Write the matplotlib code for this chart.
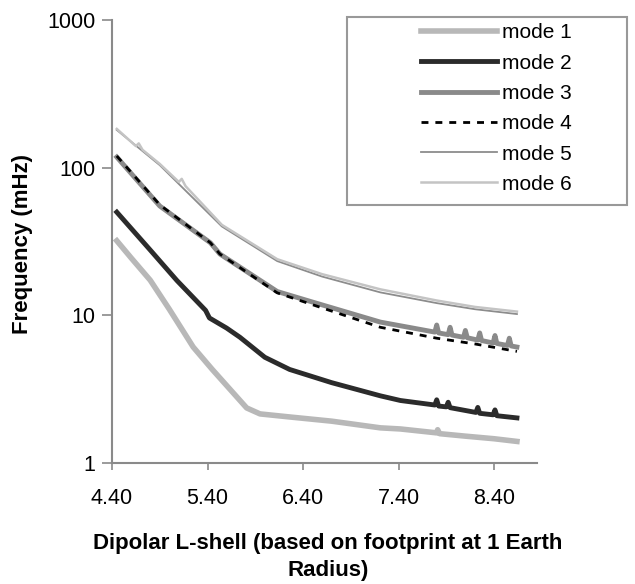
import numpy as np
import matplotlib
matplotlib.use("Agg")
import matplotlib.pyplot as plt
from matplotlib.patches import Rectangle

plt.rcParams['font.family'] = ['Liberation Sans', 'DejaVu Sans']

# values (L-shell, frequency in mHz)
L1 = [4.45, 4.60, 4.80, 5.00, 5.25, 5.45, 5.67, 5.81, 5.95, 6.26, 6.70, 7.21, 7.42, 7.80, 7.81, 7.83, 8.10, 8.40, 8.64]
f1 = [32, 24.5, 17.3, 11.0, 6.1, 4.3, 2.98, 2.36, 2.15, 2.05, 1.92, 1.73, 1.70, 1.60, 1.68, 1.58, 1.52, 1.46, 1.40]

L2 = [4.45, 4.80, 5.08, 5.38, 5.42, 5.60, 5.74, 6.00, 6.26, 6.70, 7.21, 7.42, 7.78, 7.80, 7.82, 7.90, 7.92, 7.94,
      8.21, 8.23, 8.25, 8.39, 8.41, 8.43, 8.64]
f2 = [50, 27.7, 17.2, 10.8, 9.6, 8.2, 7.1, 5.2, 4.3, 3.5, 2.85, 2.65, 2.47, 2.68, 2.43, 2.40, 2.58, 2.37,
      2.20, 2.38, 2.17, 2.12, 2.29, 2.09, 2.02]

L3 = [4.45, 4.90, 5.43, 5.53, 6.13, 6.50, 7.21, 7.78, 7.80, 7.82, 7.92, 7.94, 7.96, 8.08, 8.10, 8.12,
      8.23, 8.25, 8.27, 8.39, 8.41, 8.43, 8.54, 8.56, 8.58, 8.64]
f3 = [118, 55, 31, 26, 14.5, 12.3, 9.0, 7.7, 8.6, 7.6, 7.4, 8.3, 7.35, 7.1, 7.9, 7.05,
      6.8, 7.6, 6.75, 6.5, 7.3, 6.45, 6.25, 7.0, 6.2, 6.1]

L4 = [4.45, 4.90, 5.43, 5.53, 6.13, 6.50, 7.21, 7.80, 8.20, 8.64]
f4 = [120, 56, 31, 26, 14.2, 11.8, 8.3, 7.0, 6.4, 5.7]

L5 = [4.45, 4.90, 5.55, 6.13, 6.60, 7.21, 7.80, 8.20, 8.64]
f5 = [180, 104, 40, 23.3, 18.3, 14.3, 12.1, 11.0, 10.2]

L6 = [4.45, 4.65, 4.68, 4.72, 4.90, 5.10, 5.13, 5.17, 5.55, 6.13, 6.60, 7.21, 7.80, 8.20, 8.64]
f6 = [183, 140, 146, 132, 106, 80, 84, 75, 41, 24.0, 19.0, 15.0, 12.6, 11.4, 10.6]

labels = ['mode 1', 'mode 2', 'mode 3', 'mode 4', 'mode 5', 'mode 6']
xticks = [4.40, 5.40, 6.40, 7.40, 8.40]

fig = plt.figure(figsize=(6.35, 5.84), dpi=100)
ax = fig.add_axes([112 / 635, 1 - 463 / 584, 425 / 635, 443 / 584])

h1, = ax.plot(L1, f1, color='#b8b8b8', lw=4)
h2, = ax.plot(L2, f2, color='#2b2b2b', lw=3.5)
h3, = ax.plot(L3, f3, color='#8a8a8a', lw=3.5)
h4, = ax.plot(L4, f4, color='black', lw=2, dashes=(2.5, 2.5))
h5, = ax.plot(L5, f5, color='#8c8c8c', lw=1.3)
h6, = ax.plot(L6, f6, color='#c4c4c4', lw=1.8)

ax.set_yscale('log')
ax.set_ylim(1, 1000)
ax.set_xlim(4.40, 8.85)
ax.set_yticks([1, 10, 100, 1000])
ax.set_yticklabels(['1', '10', '100', '1000'])
ax.minorticks_off()
ax.set_xticks(xticks)
ax.set_xticklabels(['%.2f' % t for t in xticks])

for s in ['top', 'right']:
    ax.spines[s].set_visible(False)
for s in ['left', 'bottom']:
    ax.spines[s].set_color('#8a8a8a')
    ax.spines[s].set_linewidth(1.5)
ax.tick_params(axis='both', colors='#8a8a8a', labelcolor='black', labelsize=15.5, width=1.2)
ax.tick_params(axis='y', length=7, pad=5)
ax.tick_params(axis='x', length=5, pad=13)

ax.set_ylabel('Frequency (mHz)', fontsize=16, fontweight='bold')
ax.yaxis.set_label_coords(-0.186, 0.494)
ax.set_xlabel('Dipolar L-shell (based on footprint at 1 Earth\nRadius)', fontsize=16,
              fontweight='bold', linespacing=1.35)
ax.xaxis.set_label_coords(0.508, -0.158)

box = Rectangle((347 / 635, 1 - 205 / 584), 280 / 635, 188 / 584, transform=fig.transFigure,
                facecolor='white', edgecolor='#999999', lw=1.5)
fig.add_artist(box)
fig.legend([h1, h2, h3, h4, h5, h6], labels, loc='upper left',
           bbox_to_anchor=(421 / 635, 1 - 23.5 / 584), frameon=False, fontsize=15,
           handlelength=3.65, handletextpad=0.25, labelspacing=0.54, borderpad=0, borderaxespad=0)

fig.savefig('out.png', dpi=100)
